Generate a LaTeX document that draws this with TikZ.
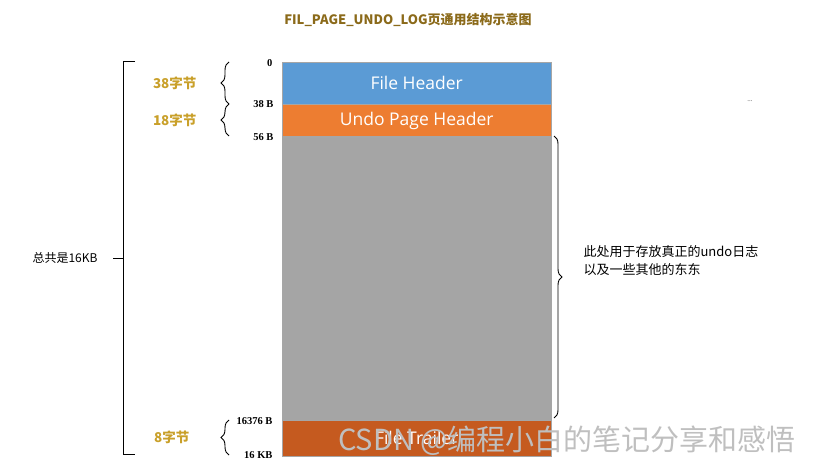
\documentclass[tikz,border=0pt]{standalone}
\usepackage{fontspec}
\setmainfont{Liberation Serif}
\newfontfamily\cjk{Noto Sans CJK SC}
\newfontfamily\boxfont{Open Sans}
\usetikzlibrary{decorations.pathreplacing}
\definecolor{hdrblue}{HTML}{5B9BD5}
\definecolor{hdrorange}{HTML}{ED7D31}
\definecolor{bodygray}{HTML}{A5A5A5}
\definecolor{trailred}{HTML}{C55A1F}
\definecolor{titlebrown}{HTML}{8B6A1A}
\definecolor{labelgold}{HTML}{C9A02A}
\tikzset{
  seg/.style={draw=gray!70, line width=0.4pt, minimum width=269pt, inner sep=0pt,
    anchor=north west, text=white, font=\boxfont\fontsize{17.5}{17.5}\selectfont},
  offset/.style={anchor=east, font=\bfseries\fontsize{10.5}{10.5}\selectfont},
  sizelabel/.style={anchor=east, text=labelgold, font=\cjk\bfseries\fontsize{13.5}{13.5}\selectfont},
  brace/.style={decorate, decoration={brace, amplitude=8pt}, line width=0.9pt}
}
\begin{document}
\begin{tikzpicture}[x=1pt, y=-1pt]
    \useasboundingbox (0,0) rectangle (816,473);
    \node[text=titlebrown, font=\cjk\bfseries\fontsize{13}{13}\selectfont] (title) at (408,20) {FIL\_PAGE\_UNDO\_LOG页通用结构示意图};

    % the page itself
    \node[seg, fill=hdrblue, minimum height=42pt] (fh) at (282,62) {File Header};
    \node[seg, fill=hdrorange, minimum height=32pt] (uph) at (fh.south west) {Undo Page Header};
    \node[seg, fill=bodygray, minimum height=283pt] (body) at (uph.south west) {};
    \node[seg, fill=trailred, minimum height=36pt] (ft) at (body.south west) {File Trailer};

    % offsets
    \node[offset] (o0) at (276,63) {0};
    \node[offset] (o38) at (277,104) {38 B};
    \node[offset] (o56) at (277,137) {56 B};
    \node[offset] (o16376) at (276,421) {16376 B};
    \node[offset] (o16k) at (276,455) {16 KB};

    % sizes on the left
    \coordinate (b1t) at (229,62);
    \coordinate (b1b) at (229,104);
    \coordinate (b2b) at (229,136);
    \coordinate (b3t) at (229,420);
    \coordinate (b3b) at (229,455);
    \draw[brace] (b1b) -- (b1t);
    \draw[brace] (b2b) -- (b1b);
    \draw[brace] (b3b) -- (b3t);
    \node[sizelabel] (s38) at (200,83) {38字节};
    \node[sizelabel] (s18) at (200,120) {18字节};
    \node[sizelabel] (s8) at (193,437) {8字节};

    \coordinate (allt) at (123,62);
    \coordinate (allb) at (123,454);
    \draw[line width=1pt] ([xshift=12pt]allt) -- (allt) -- (allb) -- ([xshift=12pt]allb);
    \draw[line width=1pt] (123,258) -- (113,258);
    \node[anchor=east, font=\cjk\fontsize{12}{12}\selectfont] (total) at (101,258) {总共是16KB};

    % body brace on the right
    \coordinate (rbt) at (554,136);
    \coordinate (rbb) at (554,418);
    \draw[brace] (rbt) -- (rbb);
    \node[anchor=west, align=left, font=\cjk\fontsize{13}{18}\selectfont] (note) at (580,261) {此处用于存放真正的undo日志\\以及一些其他的东东};

    \node[text=black!70, font=\fontsize{7}{7}\selectfont] (dots) at (750,101) {...};

    \node[text=gray!50, font=\cjk\fontsize{29}{29}\selectfont] (mark) at (567,441) {CSDN @编程小白的笔记分享和感悟};
\end{tikzpicture}
\end{document}
